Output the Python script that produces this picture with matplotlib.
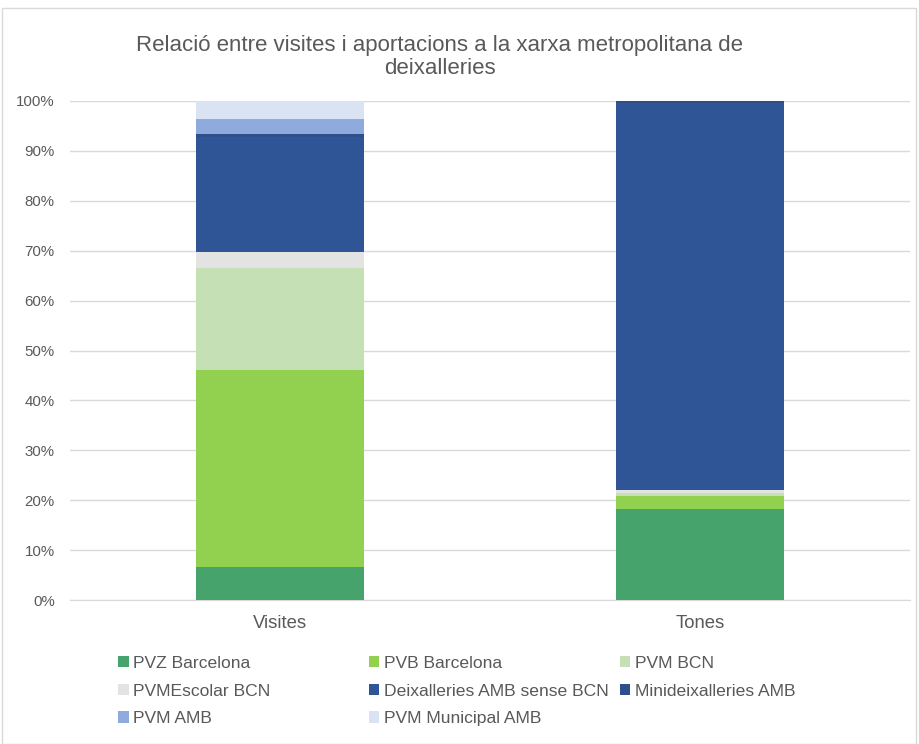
import matplotlib.pyplot as plt
from matplotlib.patches import Rectangle
import numpy as np

plt.rcParams['font.family'] = ['Liberation Sans', 'DejaVu Sans']

categories = ['Visites', 'Tones']
series = ['PVZ Barcelona', 'PVB Barcelona', 'PVM BCN', 'PVMEscolar BCN',
          'Deixalleries AMB sense BCN', 'Minideixalleries AMB', 'PVM AMB',
          'PVM Municipal AMB']
# percentages per category (Visites, Tones)
pvz = [6.6, 18.3]
pvb = [39.4, 2.5]
pvm_bcn = [20.6, 0.6]
pvm_escolar = [3.2, 0.6]
deix_amb = [23.0, 77.5]
minideix = [0.6, 0.5]
pvm_amb = [3.0, 0.0]
pvm_municipal = [3.6, 0.0]
values = [pvz, pvb, pvm_bcn, pvm_escolar, deix_amb, minideix, pvm_amb, pvm_municipal]
colors = ['#47a36c', '#92d050', '#c5e0b4', '#e3e3e3', '#2f5597', '#2e4e8c',
          '#8faadc', '#dae3f3']

fig = plt.figure(figsize=(9.2, 7.44), dpi=100)
ax = fig.add_axes([70 / 920, 144 / 744, 840 / 920, 499 / 744])

x = np.arange(len(categories))
bottom = np.zeros(len(categories))
handles = []
for name, vals, col in zip(series, values, colors):
    b = ax.bar(x, vals, 0.4, bottom=bottom, color=col, label=name, zorder=3)
    handles.append(b)
    bottom += np.array(vals)

ax.set_xlim(-0.5, 1.5)
ax.set_ylim(0, 100)
ax.set_yticks(range(0, 101, 10))
ax.set_yticklabels([f'{v}%' for v in range(0, 101, 10)], color='#595959', fontsize=10.8)
ax.set_xticks(x)
ax.set_xticklabels(categories, color='#595959', fontsize=13.3)
ax.tick_params(axis='y', length=0, pad=11)
ax.tick_params(axis='x', length=0, pad=11)
ax.grid(axis='y', color='#d9d9d9', linewidth=1, zorder=0)
for s in ['top', 'right', 'left']:
    ax.spines[s].set_visible(False)
ax.spines['bottom'].set_color('#d9d9d9')

fig.text(0.478, 1 - 57 / 744, 'Relació entre visites i aportacions a la xarxa metropolitana de\ndeixalleries',
         ha='center', va='center', fontsize=16.0, color='#595959', linespacing=1.17)

# legend laid out in three fixed-width columns, filled row by row
cols = [[0, 3, 6], [1, 4, 7], [2, 5]]
col_x = [118 / 920, 369 / 920, 620 / 920]
for idx, cx in zip(cols, col_x):
    leg = fig.legend([handles[i] for i in idx], [series[i] for i in idx],
                     loc='upper left', bbox_to_anchor=(cx, 1 - 656 / 744), frameon=False,
                     fontsize=12.6, labelcolor='#595959', handlelength=0.6, handleheight=0.6,
                     handletextpad=0.25, labelspacing=0.72, borderaxespad=0, borderpad=0)

fig.patches.append(Rectangle((2 / 920, 0), 914 / 920, 736 / 744, transform=fig.transFigure,
                             fill=False, edgecolor='#d9d9d9', linewidth=1))

fig.savefig('out.png', dpi=100)
